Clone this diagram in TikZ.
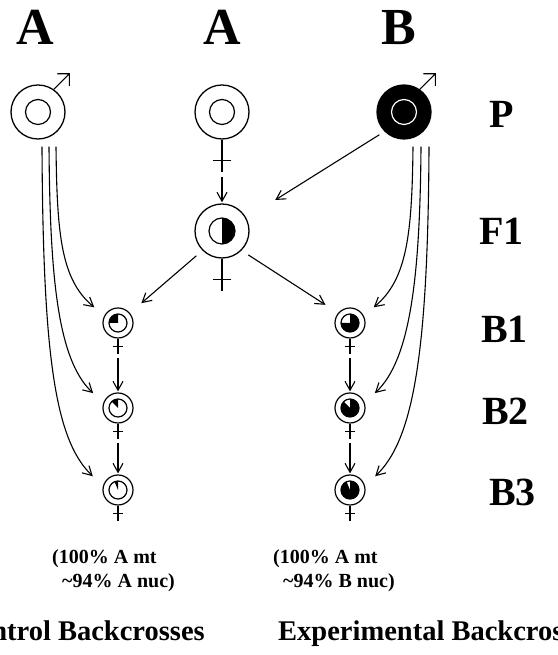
\documentclass[tikz,border=0pt]{standalone}
\usepackage{fontspec}
\setmainfont{Liberation Serif}
\usetikzlibrary{arrows.meta}
\tikzstyle{ring} = [circle, draw, line width=1.3pt, inner sep=0pt, minimum size=54pt, fill=white]
\tikzstyle{smallring} = [circle, draw, line width=1.2pt, inner sep=0pt, minimum size=30pt, fill=white]
\tikzstyle{core} = [line width=1.2pt]
\tikzstyle{sym} = [line width=1.1pt]
\tikzstyle{link} = [->, line width=1.1pt]
\tikzstyle{strain} = [font=\fontsize{52}{52}\selectfont\bfseries, anchor=base, inner sep=0pt]
\tikzstyle{gen} = [font=\fontsize{40}{40}\selectfont\bfseries, anchor=base west, inner sep=0pt]
\tikzstyle{note} = [font=\fontsize{20}{20}\selectfont\bfseries, anchor=base west, inner sep=0pt]
\tikzstyle{crossname} = [font=\fontsize{28.5}{28.5}\selectfont\bfseries, inner sep=0pt]

\begin{document}
\begin{tikzpicture}[x=1pt,y=1pt,>={Straight Barb[length=9pt,width=10pt]}]
\useasboundingbox (0,0) rectangle (557,655);
% strain names
\node[strain] (nA1) at (35,610) {A};
\node[strain] (nA2) at (222,610) {A};
\node[strain] (nB) at (399,610) {B};
% generation labels
\node[gen] (lP) at (489,527) {P};
\node[gen] (lF1) at (479,410) {F1};
\node[gen] (lB1) at (481,312) {B1};
\node[gen] (lB2) at (482,230) {B2};
\node[gen] (lB3) at (489,149) {B3};
% parents
\node[ring] (pA) at (38,543) {};
\node[ring] (pAf) at (222,543) {};
\node[ring,fill=black] (pB) at (404,543) {};
\draw[core] (pA.center) circle [radius=12.5];
\draw[core] (pAf.center) circle [radius=12.5];
\draw[core,white] (pB.center) circle [radius=12.5];
\draw[sym] (pA.55) -- ++(45:22) coordinate (pAm) ++(-12,0) -- (pAm) -- ++(0,-12);
\draw[sym] (pB.55) -- ++(45:22) coordinate (pBm) ++(-12,0) -- (pBm) -- ++(0,-12);
\draw[sym] (pAf.south) -- ++(0,-32) coordinate (pAfs) (pAf.south) ++(-9,-21) -- ++(18,0);
% F1
\node[ring] (f1) at (222,424) {};
\fill (f1.center) -- ++(-90:13) arc [start angle=-90, end angle=90, radius=13] -- cycle;
\draw[core] (f1.center) circle [radius=13];
\draw[sym] (f1.south) -- ++(0,-32) coordinate (f1s) (f1.south) ++(-9,-21) -- ++(18,0);
% backcrosses
\node[smallring] (cb1) at (118,332) {};
\node[smallring] (cb2) at (118,247) {};
\node[smallring] (cb3) at (118,165) {};
\node[smallring] (eb1) at (350,332) {};
\node[smallring] (eb2) at (350,247) {};
\node[smallring] (eb3) at (350,165) {};
\foreach \n/\a in {cb1/180,cb2/135,cb3/112.5}
  \fill (\n.center) -- ++(90:9) arc [start angle=90, end angle=\a, radius=9] -- cycle;
\foreach \n/\a in {eb1/180,eb2/135,eb3/112.5}
  \fill (\n.center) -- ++(\a:9) arc [start angle=\a, end angle=450, radius=9] -- cycle;
\foreach \n in {cb1,cb2,cb3,eb1,eb2,eb3} {
  \draw[core] (\n.center) circle [radius=9];
  \draw[sym] (\n.south) -- ++(0,-15) coordinate (\n-s) (\n.south) ++(-5,-8) -- ++(10,0);
}
% crosses
\draw[link, shorten <=5pt, shorten >=1pt] (pAfs) -- (f1);
\draw[link, shorten <=6pt, shorten >=34pt] (pB.225) -- (f1.28);
\draw[link, shorten <=8pt, shorten >=15pt] (f1.225) -- (cb1.40);
\draw[link, shorten <=8pt, shorten >=15pt] (f1.315) -- (eb1.140);
\draw[link, shorten <=4pt, shorten >=1pt] (cb1-s) -- (cb2);
\draw[link, shorten <=4pt, shorten >=1pt] (cb2-s) -- (cb3);
\draw[link, shorten <=4pt, shorten >=1pt] (eb1-s) -- (eb2);
\draw[link, shorten <=4pt, shorten >=1pt] (eb2-s) -- (eb3);
% recurrent fathers
\draw[link, shorten >=13pt] ([shift={(18,-7)}]pA.south) .. controls +(1,-89) and +(-43,36) .. (cb1.152);
\draw[link, shorten >=14pt] ([shift={(11,-7)}]pA.south) .. controls +(1,-129) and +(-46,43) .. (cb2.160);
\draw[link, shorten >=14pt] ([shift={(4,-7)}]pA.south) .. controls +(1,-209) and +(-48,46) .. (cb3.165);
\draw[link, shorten >=13pt] ([shift={(9,-7)}]pB.south) .. controls +(-1,-89) and +(43,36) .. (eb1.28);
\draw[link, shorten >=14pt] ([shift={(17,-7)}]pB.south) .. controls +(-1,-129) and +(46,43) .. (eb2.20);
\draw[link, shorten >=14pt] ([shift={(25,-7)}]pB.south) .. controls +(-1,-209) and +(48,46) .. (eb3.15);
% texts
\node[note] (mA1) at (52,91) {(100\% A mt};
\node[note] (mA2) at (62,67) {\textasciitilde 94\% A nuc)};
\node[note] (mB1) at (273,91) {(100\% A mt};
\node[note] (mB2) at (283,67) {\textasciitilde 94\% B nuc)};
\node[crossname, anchor=base east] (ctl) at (205,14) {Control Backcrosses};
\node[crossname, anchor=base west] (exp) at (278,14) {Experimental Backcrosses};
\end{tikzpicture}
\end{document}
